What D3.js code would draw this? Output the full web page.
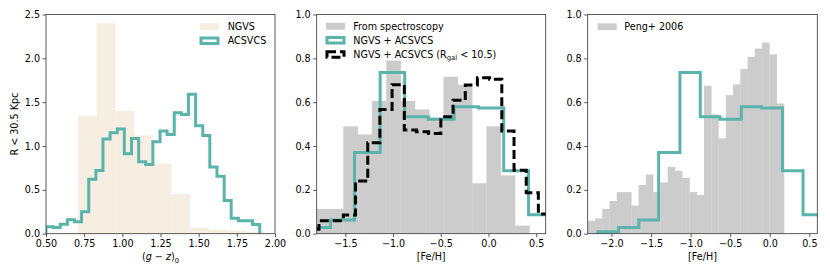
<!DOCTYPE html>
<html><head><meta charset="utf-8">
<script src="https://cdn.jsdelivr.net/npm/d3@7"></script>
<style>body{margin:0;background:#fff}svg{display:block}text,tspan{font-family:"DejaVu Sans",sans-serif;fill:#000}</style>
</head><body><div id="c"></div>
<script>
// ---- Panel 1: (g-z)0 colour distributions ----
const ngvsEdges = [0.71, 0.832, 0.954, 1.076, 1.198, 1.32, 1.442, 1.564, 1.686, 1.808, 1.93];
const ngvsValues = [1.34, 2.40, 1.40, 1.12, 0.80, 0.453, 0.065, 0.046, 0.034, 0.02];
const acsEdges = [0.5, 0.547, 0.593, 0.64, 0.687, 0.733, 0.78, 0.827, 0.873, 0.92, 0.967, 1.013, 1.06, 1.107, 1.153, 1.2, 1.247, 1.293, 1.34, 1.387, 1.433, 1.48, 1.527, 1.573, 1.62, 1.667, 1.713, 1.76, 1.807, 1.853, 1.9];
const acsValues = [0.08, 0.07, 0.107, 0.16, 0.137, 0.25, 0.62, 0.72, 1.08, 1.15, 1.195, 0.913, 1.085, 0.82, 0.79, 1.05, 1.17, 1.13, 1.38, 1.36, 1.59, 1.23, 1.12, 0.76, 0.654, 0.38, 0.175, 0.148, 0.148, 0.106];

// ---- Panel 2: [Fe/H] ----
const specEdges = [-1.821, -1.671, -1.521, -1.371, -1.221, -1.071, -0.921, -0.771, -0.621, -0.471, -0.321, -0.171, -0.021, 0.129, 0.279, 0.429];
const specValues = [0.113, 0.113, 0.49, 0.453, 0.606, 0.79, 0.606, 0.567, 0.53, 0.716, 0.678, 0.23, 0.49, 0.266, 0.037];
const combEdges = [-2.17, -1.91, -1.655, -1.404, -1.135, -0.878, -0.63, -0.36, -0.105, 0.16, 0.42, 0.68];
const combValues = [0.009, 0.028, 0.0625, 0.371, 0.735, 0.533, 0.522, 0.579, 0.574, 0.287, 0.087];
const innerEdges = [-1.904, -1.776, -1.649, -1.521, -1.393, -1.265, -1.138, -1.010, -0.882, -0.754, -0.627, -0.499, -0.371, -0.243, -0.116, 0.012, 0.140, 0.268, 0.396, 0.523, 0.651];
const innerValues = [0.02, 0.059, 0.059, 0.085, 0.24, 0.415, 0.567, 0.68, 0.473, 0.465, 0.457, 0.533, 0.609, 0.678, 0.711, 0.705, 0.468, 0.29, 0.187, 0.09];

// ---- Panel 3: Peng+ 2006 ----
const pengEdges = [-2.3, -2.208, -2.116, -2.025, -1.933, -1.841, -1.749, -1.657, -1.566, -1.474, -1.382, -1.290, -1.198, -1.107, -1.015, -0.923, -0.831, -0.739, -0.648, -0.556, -0.464, -0.372, -0.280, -0.189, -0.097, -0.005, 0.087, 0.179];
const pengValues = [0.059, 0.07, 0.113, 0.149, 0.19, 0.19, 0.128, 0.222, 0.27, 0.19, 0.234, 0.305, 0.286, 0.255, 0.19, 0.176, 0.675, 0.544, 0.435, 0.632, 0.681, 0.751, 0.807, 0.845, 0.872, 0.818, 0.594];

const xTicks1 = [0.5, 0.75, 1.0, 1.25, 1.5, 1.75, 2.0];
const yTicks1 = [0, 0.5, 1.0, 1.5, 2.0, 2.5];
const xTicks2 = [-1.5, -1.0, -0.5, 0.0, 0.5];
const xTicks3 = [-2.0, -1.5, -1.0, -0.5, 0.0, 0.5];
const yTicks23 = [0, 0.2, 0.4, 0.6, 0.8, 1.0];

const TEAL = "#5ab4ac", BEIGE = "#f6eee0", GRAY = "#cccccc";
const W = 830, H = 277, yTop = 14.5, yBot = 233.7;
const svg = d3.select("#c").append("svg").attr("width", W).attr("height", H);
const fmtMinus = s => s.replace("-", "\u2212");

function panel(id, x0, x1, xdom, ydom, xt, yt, xfmt, yfmt) {
  const x = d3.scaleLinear().domain(xdom).range([x0, x1]);
  const y = d3.scaleLinear().domain(ydom).range([yBot, yTop]);
  svg.append("clipPath").attr("id", id).append("rect")
    .attr("x", x0).attr("y", yTop).attr("width", x1 - x0).attr("height", yBot - yTop);
  const g = svg.append("g");
  const plot = g.append("g").attr("clip-path", `url(#${id})`);
  const xa = g.append("g").attr("transform", `translate(0,${yBot})`)
    .call(d3.axisBottom(x).tickValues(xt).tickSize(3.5).tickPadding(2.5).tickFormat(d => fmtMinus(d3.format(xfmt)(d))));
  const ya = g.append("g").attr("transform", `translate(${x0},0)`)
    .call(d3.axisLeft(y).tickValues(yt).tickSize(3.5).tickPadding(2.5).tickFormat(d => d3.format(yfmt)(d)));
  [xa, ya].forEach(a => {
    a.select(".domain").remove();
    a.selectAll("text").attr("font-size", 9.6).attr("font-family", "DejaVu Sans").attr("fill", "#000");
    a.selectAll("line").attr("stroke", "#333").attr("stroke-width", 0.8);
  });
  const frame = g.append("rect").attr("x", x0).attr("y", yTop).attr("width", x1 - x0).attr("height", yBot - yTop)
    .attr("fill", "none").attr("stroke", "#333").attr("stroke-width", 0.8);
  return {x, y, plot, g, frame};
}

function bars(p, edges, vals, color) {
  p.plot.selectAll(null).data(vals).enter().append("rect")
    .attr("x", (d, i) => p.x(edges[i])).attr("width", (d, i) => p.x(edges[i + 1]) - p.x(edges[i]) + 0.3)
    .attr("y", d => p.y(d)).attr("height", d => p.y(0) - p.y(d)).attr("fill", color);
}
function step(p, edges, vals, color, dash) {
  const pts = [[edges[0], 0]];
  vals.forEach((v, i) => { pts.push([edges[i], v]); pts.push([edges[i + 1], v]); });
  pts.push([edges[edges.length - 1], 0]);
  const line = d3.line().x(d => p.x(d[0])).y(d => p.y(d[1]));
  const path = p.plot.append("path").attr("d", line(pts)).attr("fill", "none")
    .attr("stroke", color).attr("stroke-width", 3).attr("stroke-linejoin", "miter");
  if (dash) path.attr("stroke-dasharray", dash);
}

// Panel 1
const p1 = panel("cp1", 46, 275, [0.5, 2.0], [0, 2.5], xTicks1, yTicks1, ".2f", ".1f");
bars(p1, ngvsEdges, ngvsValues, BEIGE);
step(p1, acsEdges, acsValues, TEAL);
p1.frame.raise();

// Panel 2
const p2 = panel("cp2", 316.7, 545.7, [-1.8, 0.6], [0, 1.0], xTicks2, yTicks23, ".1f", ".1f");
bars(p2, specEdges, specValues, GRAY);
step(p2, combEdges, combValues, TEAL);
step(p2, innerEdges, innerValues, "#000", "9,4");
p2.frame.raise();

// Panel 3
const p3 = panel("cp3", 587.7, 817.3, [-2.3, 0.6], [0, 1.0], xTicks3, yTicks23, ".1f", ".1f");
bars(p3, pengEdges, pengValues, GRAY);
step(p3, combEdges, combValues, TEAL);
p3.frame.raise();

// Axis labels
const fs = 9.6;
const xl1 = svg.append("text").attr("x", 160.5).attr("y", 260).attr("text-anchor", "middle").attr("font-size", fs).attr("fill", "#000");
xl1.append("tspan").text("(");
xl1.append("tspan").attr("font-style", "italic").text("g");
xl1.append("tspan").text(" \u2212 ");
xl1.append("tspan").attr("font-style", "italic").text("z");
xl1.append("tspan").text(")");
xl1.append("tspan").attr("font-size", 6.8).attr("dy", 2.5).text("0");
svg.append("text").attr("x", 431.2).attr("y", 260).attr("text-anchor", "middle").attr("font-size", fs).text("[Fe/H]");
svg.append("text").attr("x", 702.5).attr("y", 260).attr("text-anchor", "middle").attr("font-size", fs).text("[Fe/H]");
svg.append("text").attr("transform", `translate(14.5,${(yTop + yBot) / 2}) rotate(-90)`).attr("text-anchor", "middle")
  .attr("dy", "0.35em").attr("font-size", fs).text("R < 30.5 Kpc");

// Legends
svg.append("rect").attr("x", 200).attr("y", 23.3).attr("width", 19).attr("height", 6.8).attr("fill", BEIGE);
svg.append("text").attr("x", 227.7).attr("y", 26.7).attr("dy", "0.35em").attr("font-size", fs).text("NGVS");
svg.append("rect").attr("x", 201).attr("y", 38).attr("width", 17).attr("height", 5.5).attr("fill", "none").attr("stroke", TEAL).attr("stroke-width", 3);
svg.append("text").attr("x", 227.7).attr("y", 40.7).attr("dy", "0.35em").attr("font-size", fs).text("ACSVCS");

svg.append("rect").attr("x", 326).attr("y", 22.8).attr("width", 19).attr("height", 6.8).attr("fill", GRAY);
svg.append("text").attr("x", 353.3).attr("y", 26.3).attr("dy", "0.35em").attr("font-size", fs).text("From spectroscopy");
svg.append("rect").attr("x", 327).attr("y", 37.5).attr("width", 17).attr("height", 5.5).attr("fill", "none").attr("stroke", TEAL).attr("stroke-width", 3);
svg.append("text").attr("x", 353.3).attr("y", 40.3).attr("dy", "0.35em").attr("font-size", fs).text("NGVS + ACSVCS");
svg.append("rect").attr("x", 327).attr("y", 51.7).attr("width", 17).attr("height", 5.5).attr("fill", "none").attr("stroke", "#000").attr("stroke-width", 3).attr("stroke-dasharray", "9,4");
const lt = svg.append("text").attr("x", 353.3).attr("y", 54.5).attr("dy", "0.35em").attr("font-size", fs).attr("fill", "#000");
lt.append("tspan").attr("fill", "#000").text("NGVS + ACSVCS (R");
lt.append("tspan").attr("fill", "#000").attr("font-size", 6.8).attr("dy", 2).text("gal");
lt.append("tspan").attr("fill", "#000").attr("dy", -2).text(" < 10.5)");

svg.append("rect").attr("x", 597.7).attr("y", 23.3).attr("width", 19).attr("height", 6.8).attr("fill", GRAY);
svg.append("text").attr("x", 624.3).attr("y", 26.7).attr("dy", "0.35em").attr("font-size", fs).text("Peng+ 2006");
</script></body></html>
